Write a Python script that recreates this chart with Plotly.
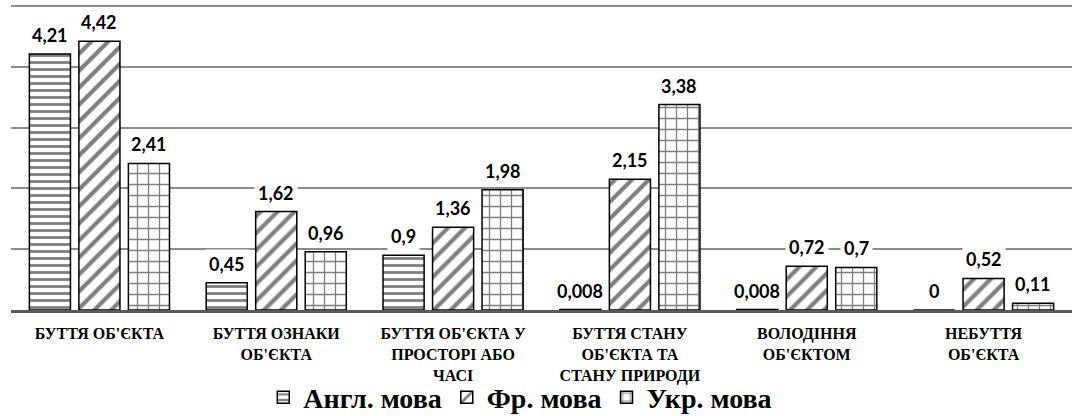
import plotly.graph_objects as go

categories = [
    "БУТТЯ ОБ'ЄКТА",
    "БУТТЯ ОЗНАКИ<br>ОБ'ЄКТА",
    "БУТТЯ ОБ'ЄКТА У<br>ПРОСТОРІ АБО<br>ЧАСІ",
    "БУТТЯ СТАНУ<br>ОБ'ЄКТА ТА<br>СТАНУ ПРИРОДИ",
    "ВОЛОДІННЯ<br>ОБ'ЄКТОМ",
    "НЕБУТТЯ<br>ОБ'ЄКТА",
]
series_names = ["Англ. мова", "Фр. мова", "Укр. мова"]
eng = [4.21, 0.45, 0.9, 0.008, 0.008, 0]
fr = [4.42, 1.62, 1.36, 2.15, 0.72, 0.52]
ukr = [2.41, 0.96, 1.98, 3.38, 0.7, 0.11]

series = [eng, fr, ukr]
patterns = [
    dict(shape="-", size=7, solidity=0.4),
    dict(shape="/", size=12, solidity=0.35),
    dict(shape="+", size=11, solidity=0.22),
]

SERIF = "Liberation Serif"


def fmt(v):
    return f"{v:g}".replace(".", ",")


fig = go.Figure()
for name, vals, pat in zip(series_names, series, patterns):
    fig.add_trace(go.Bar(
        x=categories, y=vals, name=f"<b>{name}</b>",
        marker=dict(color="white", line=dict(color="black", width=1.5),
                    pattern=dict(fgcolor="black", bgcolor="white", fillmode="overlay", **pat)),
    ))

shifts = [-49.5, 0, 49.5]
for vals, sh in zip(series, shifts):
    for c, v in zip(categories, vals):
        fig.add_annotation(
            x=c, y=v, xref="x", yref="y", text=f"<b>{fmt(v)}</b>", showarrow=False,
            xshift=sh, yshift=4, yanchor="bottom",
            bgcolor="white", borderpad=3,
            font=dict(family="Lato", size=18, color="black"),
        )

fig.update_layout(
    width=1073, height=416,
    margin=dict(l=11, r=1, t=3, b=106, autoexpand=False),
    paper_bgcolor="white", plot_bgcolor="white",
    barmode="group", bargap=0.16, bargroupgap=0.17,
    showlegend=True,
    legend=dict(orientation="h", x=0.48, xanchor="center", y=-0.285, yanchor="middle",
                bgcolor="rgba(0,0,0,0)",
                font=dict(family=SERIF, size=28, color="black"),
                traceorder="normal"),
    xaxis=dict(showline=True, linecolor="#595959", linewidth=3, ticks="",
               ticklabelstandoff=7,
               tickfont=dict(family=SERIF, size=16, color="black"),
               tickvals=categories,
               ticktext=[f"<b>{c}</b>".replace("<br>", "</b><br><b>") for c in categories],
               showgrid=False),
    yaxis=dict(range=[0, 5.05], dtick=1, showgrid=True, gridcolor="#8c8c8c", gridwidth=1.8,
               showticklabels=False, zeroline=False, showline=False),
)

fig.write_html("out.html", config={"displayModeBar": False},
               post_script="document.body.style.margin='0';document.body.style.padding='0';")
